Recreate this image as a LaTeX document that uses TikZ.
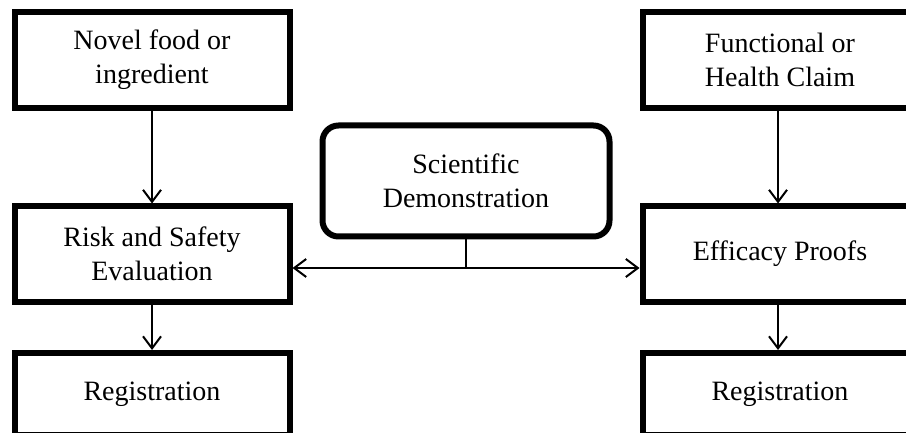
\documentclass[tikz,border=0pt]{standalone}
\usepackage{fontspec}
\setmainfont{Liberation Serif}
\usetikzlibrary{arrows.meta}

\begin{document}
\begin{tikzpicture}[x=1pt, y=-1pt,
        box/.style={draw, rectangle, line width=6pt, minimum width=275pt, align=center,
            font=\fontsize{28}{34}\selectfont},
        link/.style={line width=2pt, -{Straight Barb[length=12pt,width=18pt,line width=2pt]}},
        twolink/.style={line width=2pt,
            {Straight Barb[length=12pt,width=18pt,line width=2pt]}-{Straight Barb[length=12pt,width=18pt,line width=2pt]}}]
        \path[use as bounding box, clip] (0,0) rectangle (906,433);

        % Novel food side
        \node[box, minimum height=96pt] (food) at (152,60) {Novel food or\\ingredient};
        \node[box, minimum height=95pt] (risk) at (152,254) {Risk and Safety\\Evaluation};
        \node[box, minimum height=82pt] (regl) at (152,394) {Registration};
        \draw[link] (food) -- (risk);
        \draw[link] (risk) -- (regl);

        % Claim side
        \node[box, minimum height=96pt] (claim) at (780,60) {Functional or\\Health Claim};
        \node[box, minimum height=95pt] (proof) at (780,254) {Efficacy Proofs};
        \node[box, minimum height=82pt] (regr) at (780,394) {Registration};
        \draw[link] (claim.south -| 778,0) -- (proof.north -| 778,0);
        \draw[link] (proof.south -| 778,0) -- (regr.north -| 778,0);

        % Scientific demonstration
        \node[box, rounded corners=16pt, minimum width=287pt, minimum height=111pt] (sci) at (466,181) {Scientific\\Demonstration};
        \coordinate (jn) at (466,268);
        \draw[line width=1.5pt] (sci) -- (jn);
        \draw[twolink] (risk.east |- jn) -- (proof.west |- jn);
    \end{tikzpicture}
\end{document}
